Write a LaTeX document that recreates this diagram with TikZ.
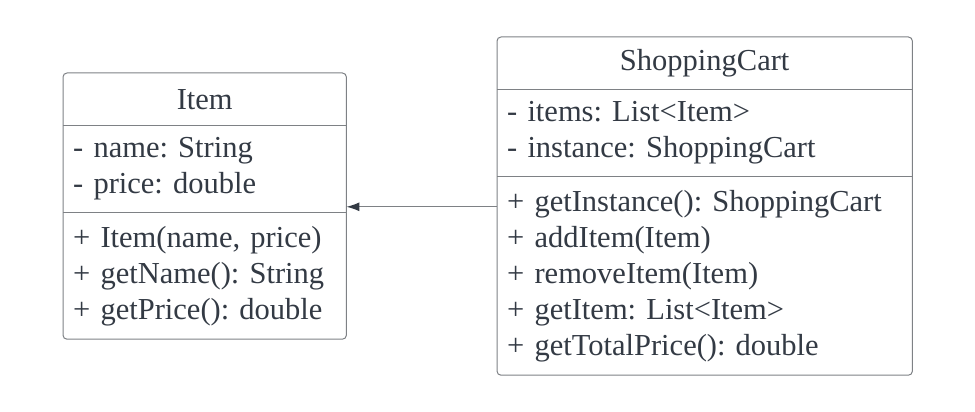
\documentclass[tikz,border=0pt]{standalone}
\usepackage{fontspec}
\setmainfont{Liberation Serif}
\usepackage{xcolor}
\usetikzlibrary{arrows.meta,positioning}
\definecolor{inkc}{HTML}{333A44}
\definecolor{edgec}{HTML}{7E8185}
\frenchspacing

\begin{document}
\begin{tikzpicture}[x=1pt, y=-1pt, font=\fontsize{30.5}{36}\selectfont,
    node distance=0pt,
    head/.style={text=inkc, inner sep=0pt, align=center, minimum height=52pt},
    part/.style={text=inkc, inner xsep=10pt, inner ysep=0pt, align=left},
    box/.style={draw=edgec, line width=1pt, rounded corners=4pt},
    sep/.style={draw=edgec, line width=1pt},
    assoc/.style={draw=edgec, line width=1.2pt, -{Latex[length=13pt,width=9pt,color=inkc]}}]

  \useasboundingbox (0,0) rectangle (975,412);

  % --- Item class ---
  \node[head, minimum width=283pt, anchor=north west] (itemH) at (63,73) {Item};
  \node[part, text width=263pt, minimum height=87pt, below=of itemH] (itemA)
    {- name: String\\- price: double};
  \node[part, text width=263pt, minimum height=126pt, below=of itemA] (itemM)
    {+ Item(name, price)\\+ getName(): String\\+ getPrice(): double};

  \draw[box] (itemH.north west) rectangle (itemM.south east);
  \draw[sep] (itemA.north west) -- (itemA.north east);
  \draw[sep] (itemM.north west) -- (itemM.north east);

  % --- ShoppingCart class ---
  \node[head, minimum width=415pt, anchor=north west] (cartH) at (497,37) {ShoppingCart};
  \node[part, text width=395pt, minimum height=87pt, below=of cartH] (cartA)
    {- items: List<Item>\\- instance: ShoppingCart};
  \node[part, text width=395pt, minimum height=198pt, below=of cartA] (cartM)
    {+ getInstance(): ShoppingCart\\+ addItem(Item)\\+ removeItem(Item)\\+ getItem: List<Item>\\+ getTotalPrice(): double};

  \draw[box] (cartH.north west) rectangle (cartM.south east);
  \draw[sep] (cartA.north west) -- (cartA.north east);
  \draw[sep] (cartM.north west) -- (cartM.north east);

  % --- association ---
  \draw[assoc] ([yshift=-30pt]cartM.north west) -- ([yshift=-30pt]cartM.north west -| itemA.east);
\end{tikzpicture}
\end{document}
